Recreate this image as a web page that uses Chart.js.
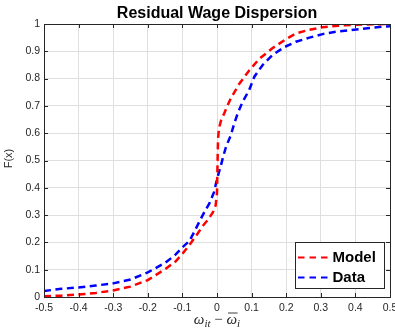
<!DOCTYPE html>
<html>
<head>
<meta charset="utf-8">
<script src="https://cdn.jsdelivr.net/npm/chart.js@4/dist/chart.umd.min.js"></script>
<style>
  html, body { margin: 0; padding: 0; background: #ffffff; }
  #wrap { width: 395px; height: 334px; }
</style>
</head>
<body>
<div id="wrap"><canvas id="cdf" width="395" height="334"></canvas></div>
<script>
// Empirical CDF of residual wages: model vs. data
const chartTitle = 'Residual Wage Dispersion';
const yAxisLabel = 'F(x)';
const seriesNames = ['Model', 'Data'];

const modelX = [-0.5, -0.45, -0.4, -0.35, -0.3, -0.25, -0.2, -0.15, -0.12, -0.1, -0.08, -0.06, -0.04, -0.025,
  -0.012, -0.004, 0, 0.001, 0.002, 0.003, 0.006, 0.012, 0.021, 0.031, 0.04, 0.064, 0.093, 0.122, 0.16,
  0.2, 0.228, 0.267, 0.305, 0.35, 0.4, 0.45, 0.5];
const modelF = [0.003, 0.005, 0.009, 0.015, 0.024, 0.038, 0.062, 0.102, 0.13, 0.158, 0.19, 0.225, 0.262, 0.285,
  0.31, 0.335, 0.38, 0.45, 0.52, 0.58, 0.62, 0.648, 0.673, 0.703, 0.728, 0.78, 0.83, 0.872, 0.911,
  0.945, 0.965, 0.979, 0.988, 0.994, 0.997, 0.999, 1.0];

const dataX = [-0.5, -0.45, -0.4, -0.35, -0.3, -0.25, -0.2, -0.15, -0.12, -0.1, -0.08, -0.065, -0.051, -0.037,
  -0.022, -0.008, -0.003, 0.004, 0.011, 0.018, 0.026, 0.04, 0.05, 0.06, 0.074, 0.093, 0.108, 0.132, 0.16,
  0.194, 0.228, 0.267, 0.305, 0.35, 0.41, 0.478, 0.5];
const dataF = [0.022, 0.03, 0.035, 0.042, 0.05, 0.064, 0.09, 0.125, 0.155, 0.182, 0.205, 0.24, 0.276, 0.31,
  0.343, 0.386, 0.416, 0.45, 0.48, 0.515, 0.55, 0.593, 0.636, 0.673, 0.715, 0.758, 0.807, 0.85, 0.886,
  0.915, 0.935, 0.95, 0.963, 0.973, 0.981, 0.99, 0.992];

const xTicks = [-0.5, -0.4, -0.3, -0.2, -0.1, 0, 0.1, 0.2, 0.3, 0.4, 0.5];
const yTicks = [0, 0.1, 0.2, 0.3, 0.4, 0.5, 0.6, 0.7, 0.8, 0.9, 1];

const AXIS = '#262626';
const SANS = '"Liberation Sans", Arial, Helvetica, sans-serif';
const SERIF = '"Liberation Serif", "DejaVu Serif", serif';

function toPoints(xs, ys) { return xs.map((x, i) => ({ x: x, y: ys[i] })); }
function fmt(v) { return String(Math.round(v * 10) / 10); }

// Box, inward ticks, title, axis labels and the in-plot legend
const framePlugin = {
  id: 'frame',
  afterDraw(chart) {
    const ctx = chart.ctx;
    const a = chart.chartArea;
    const xs = chart.scales.x, ys = chart.scales.y;
    const tl = 4;
    ctx.save();
    ctx.strokeStyle = AXIS;
    ctx.lineWidth = 1;
    ctx.setLineDash([]);
    ctx.beginPath();
    xTicks.forEach(v => {
      const px = Math.round(xs.getPixelForValue(v)) + 0.5;
      ctx.moveTo(px, a.bottom); ctx.lineTo(px, a.bottom - tl);
      ctx.moveTo(px, a.top); ctx.lineTo(px, a.top + tl);
    });
    yTicks.forEach(v => {
      const py = Math.round(ys.getPixelForValue(v)) + 0.5;
      ctx.moveTo(a.left, py); ctx.lineTo(a.left + tl, py);
      ctx.moveTo(a.right, py); ctx.lineTo(a.right - tl, py);
    });
    ctx.stroke();
    ctx.strokeRect(Math.round(a.left) + 0.5, Math.round(a.top) + 0.5,
      Math.round(a.right - a.left), Math.round(a.bottom - a.top));

    const cx = (a.left + a.right) / 2;

    // title
    ctx.fillStyle = '#000000';
    ctx.font = 'bold 16px ' + SANS;
    ctx.textAlign = 'center';
    ctx.textBaseline = 'alphabetic';
    ctx.fillText(chartTitle, cx, 17.5);

    // y label
    ctx.save();
    ctx.translate(12, (a.top + a.bottom) / 2 - 2);
    ctx.rotate(-Math.PI / 2);
    ctx.fillStyle = AXIS;
    ctx.font = '11px ' + SANS;
    ctx.textAlign = 'center';
    ctx.fillText(yAxisLabel, 0, 0);
    ctx.restore();

    // x label: omega_it - bar(omega)_i
    const base = 324;
    const big = 'italic 15px ' + SERIF;
    const small = 'italic 11px ' + SERIF;
    const up = '15px ' + SERIF;
    const parts = [
      { t: '\u03C9', f: big, dy: 0 },
      { t: 'it', f: small, dy: 3 },
      { t: ' \u2212 ', f: up, dy: 0 },
      { t: '\u03C9', f: big, dy: 0, bar: true },
      { t: 'i', f: small, dy: 3 }
    ];
    let total = 0;
    parts.forEach(p => { ctx.font = p.f; p.w = ctx.measureText(p.t).width; total += p.w; });
    let x = cx - total / 2;
    ctx.fillStyle = AXIS;
    ctx.textAlign = 'left';
    parts.forEach(p => {
      ctx.font = p.f;
      ctx.fillText(p.t, x, base + p.dy);
      if (p.bar) {
        ctx.beginPath();
        ctx.strokeStyle = AXIS;
        ctx.lineWidth = 0.9;
        ctx.moveTo(x + 1.5, base - 11);
        ctx.lineTo(x + p.w + 0.5, base - 11);
        ctx.stroke();
      }
      x += p.w;
    });

    // legend
    const lx = 295.5, ly = 242.5, lw = 89, lh = 46;
    ctx.fillStyle = '#ffffff';
    ctx.fillRect(lx, ly, lw, lh);
    ctx.strokeStyle = AXIS;
    ctx.lineWidth = 1;
    ctx.strokeRect(lx, ly, lw, lh);
    chart.data.datasets.forEach((ds, i) => {
      const yy = 257.5 + i * 20;
      ctx.beginPath();
      ctx.strokeStyle = ds.borderColor;
      ctx.lineWidth = 2;
      ctx.setLineDash([6.5, 5]);
      ctx.moveTo(298, yy);
      ctx.lineTo(331, yy);
      ctx.stroke();
      ctx.setLineDash([]);
      ctx.fillStyle = '#000000';
      ctx.font = 'bold 15px ' + SANS;
      ctx.textAlign = 'left';
      ctx.textBaseline = 'middle';
      ctx.fillText(ds.label, 332.5, yy + 0.5);
    });
    ctx.restore();
  }
};

new Chart(document.getElementById('cdf'), {
  type: 'scatter',
  data: {
    datasets: [
      {
        label: seriesNames[0],
        data: toPoints(modelX, modelF),
        showLine: true,
        borderColor: '#ff0000',
        backgroundColor: '#ff0000',
        borderWidth: 2.5,
        borderDash: [7, 4.5],
        pointRadius: 0,
        tension: 0
      },
      {
        label: seriesNames[1],
        data: toPoints(dataX, dataF),
        showLine: true,
        borderColor: '#0000ff',
        backgroundColor: '#0000ff',
        borderWidth: 2.5,
        borderDash: [7, 4.5],
        pointRadius: 0,
        tension: 0
      }
    ]
  },
  options: {
    responsive: false,
    devicePixelRatio: 1,
    animation: false,
    layout: { padding: { left: 0, top: 24, right: 5, bottom: 0 } },
    plugins: {
      legend: { display: false },
      title: { display: false },
      tooltip: { enabled: false }
    },
    scales: {
      x: {
        type: 'linear',
        min: -0.5, max: 0.5,
        afterFit: s => { s.height = 37; s.paddingLeft = 0; s.paddingRight = 0; },
        afterBuildTicks: s => { s.ticks = xTicks.map(v => ({ value: v })); },
        ticks: {
          callback: v => fmt(v),
          font: { family: SANS, size: 10.5 },
          color: AXIS,
          padding: 5,
          maxRotation: 0,
          autoSkip: false
        },
        grid: { color: '#dfdfdf', lineWidth: 1, drawTicks: false },
        border: { display: false }
      },
      y: {
        type: 'linear',
        min: 0, max: 1,
        afterFit: s => { s.width = 44; s.paddingTop = 0; s.paddingBottom = 0; },
        afterBuildTicks: s => { s.ticks = yTicks.map(v => ({ value: v })); },
        ticks: {
          callback: v => fmt(v),
          font: { family: SANS, size: 10.5 },
          color: AXIS,
          padding: 4,
          autoSkip: false
        },
        grid: { color: '#dfdfdf', lineWidth: 1, drawTicks: false },
        border: { display: false }
      }
    }
  },
  plugins: [framePlugin]
});
</script>
</body>
</html>
